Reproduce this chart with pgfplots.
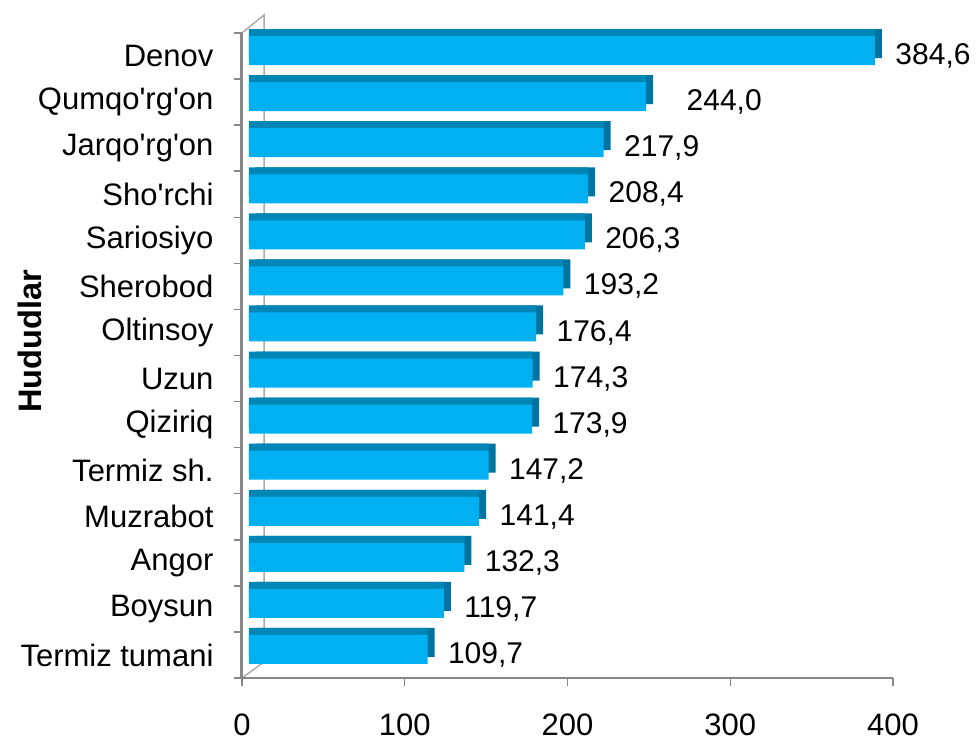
\documentclass[border=0pt]{standalone}
\usepackage{fontspec}
\setmainfont{Liberation Sans}[Ligatures=TeXOff]
\usepackage{pgfplots}
\pgfplotsset{compat=1.18}
\definecolor{barface}{HTML}{00B0F0}
\definecolor{bartop}{HTML}{0086B6}
\definecolor{barside}{HTML}{0074A0}
\definecolor{axgray}{HTML}{878787}
\begin{document}
\begin{tikzpicture}
\useasboundingbox (-242pt,-62pt) rectangle (734pt,678pt);
% back wall (3-D frame)
\draw[axgray!70, line width=1.5pt] (0pt,645pt) -- (22pt,663pt) -- (22pt,16pt) -- (0pt,0pt);
% category boundary ticks
\foreach \k in {0,...,14} \draw[axgray, line width=1.5pt] (-8pt,{\k*46.0714pt}) -- (0pt,{\k*46.0714pt});
\begin{axis}[
  at={(0pt,0pt)}, anchor=south west,
  width=651pt, height=645pt, scale only axis,
  xmin=0, xmax=400, ymin=-0.5, ymax=13.5,
  axis x line*=bottom, axis y line*=left,
  x axis line style={draw=axgray, line width=2pt},
  y axis line style={draw=axgray, line width=3pt},
  xtick={0,100,...,400},
  ytick={0,...,13},
  yticklabels={Termiz tumani,Boysun,Angor,Muzrabot,Termiz sh.,Qiziriq,Uzun,Oltinsoy,Sherobod,Sariosiyo,Sho'rchi,Jarqo'rg'on,Qumqo'rg'on,Denov},
  ytick style={draw=none},
  xtick style={draw=axgray, line width=1.5pt},
  major tick length=8pt, tick align=outside,
  tick label style={font=\fontsize{31}{36}\selectfont},
  /pgf/number format/assume math mode=true,
  xticklabel style={yshift=-24pt},
  yticklabel style={xshift=-17pt},
  ylabel={Hududlar},
  ylabel style={at={(axis description cs:-0.3257,0.522)}, anchor=center, font=\fontsize{32.5}{38}\selectfont\bfseries},
  clip=false,
]
% right side of the 3-D bars
\addplot[xbar, bar width=29pt, bar shift=12.5pt, draw=none, fill=barside, xshift=14pt] coordinates {
(109.7,0) (119.7,1) (132.3,2) (141.4,3) (147.2,4) (173.9,5) (174.3,6)
(176.4,7) (193.2,8) (206.3,9) (208.4,10) (217.9,11) (244.0,12) (384.6,13)};
% top of the 3-D bars
\addplot[xbar, bar width=29pt, bar shift=12.5pt, draw=none, fill=bartop, xshift=7pt] coordinates {
(109.7,0) (119.7,1) (132.3,2) (141.4,3) (147.2,4) (173.9,5) (174.3,6)
(176.4,7) (193.2,8) (206.3,9) (208.4,10) (217.9,11) (244.0,12) (384.6,13)};
% front face
\addplot[xbar, bar width=29pt, bar shift=5.5pt, draw=none, fill=barface, xshift=7pt,
  point meta=explicit symbolic, nodes near coords,
  every node near coord/.append style={anchor=west, xshift=17pt, font=\fontsize{30}{36}\selectfont, text=black}] coordinates {
(109.7,0) [109,7] (119.7,1) [119,7] (132.3,2) [132,3] (141.4,3) [141,4] (147.2,4) [147,2] (173.9,5) [173,9] (174.3,6) [174,3]
(176.4,7) [176,4] (193.2,8) [193,2] (206.3,9) [206,3] (208.4,10) [208,4] (217.9,11) [217,9] (244.0,12) [{\hspace*{20pt}244,0}] (384.6,13) [384,6]};
\end{axis}
\end{tikzpicture}
\end{document}
